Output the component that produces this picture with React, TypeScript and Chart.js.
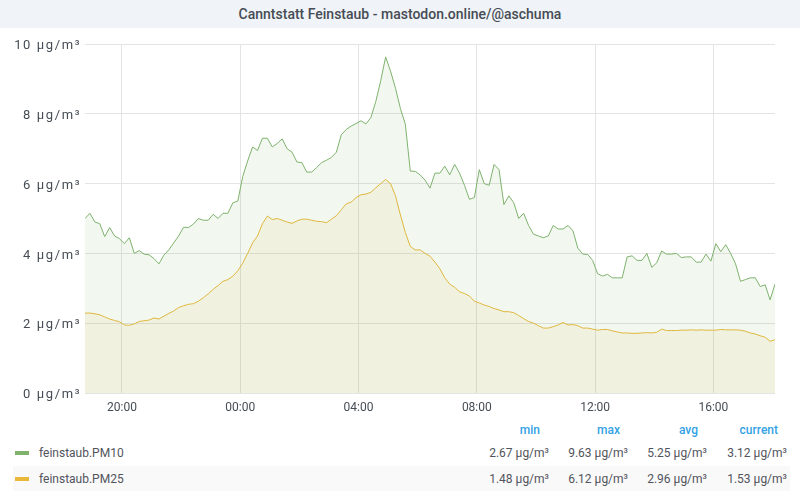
import React, { useEffect, useRef } from "react";
import { Chart, registerables } from "chart.js";

Chart.register(...registerables);

// Sampling: every 10 minutes starting 18:45 (hours since midnight of day 1)
const START_HOUR = 18.75;
const STEP_MINUTES = 10;

const pm10: number[] = [
  5.0, 5.15, 4.9, 4.85, 4.48, 4.74, 4.5, 4.42, 4.28, 4.45,
  4.0, 4.08, 3.98, 3.96, 3.85, 3.7, 3.95, 4.1, 4.3, 4.5,
  4.75, 4.74, 4.84, 5.0, 4.95, 4.95, 5.12, 5.0, 5.15, 5.15,
  5.45, 5.5, 6.2, 6.65, 7.05, 6.95, 7.3, 7.3, 7.05, 7.15,
  7.28, 7.0, 6.9, 6.62, 6.6, 6.33, 6.33, 6.46, 6.6, 6.67,
  6.75, 6.9, 7.4, 7.55, 7.65, 7.72, 7.8, 7.71, 7.89, 8.35,
  8.95, 9.63, 9.22, 8.73, 8.15, 7.7, 6.36, 6.35, 6.25, 6.1,
  5.87, 6.3, 6.3, 6.5, 6.25, 6.55, 6.3, 5.95, 5.55, 5.6,
  6.4, 6.0, 5.95, 6.55, 6.4, 5.4, 5.65, 5.45, 5.0, 5.15,
  4.8, 4.55, 4.5, 4.45, 4.5, 4.8, 4.7, 4.7, 4.8, 4.65,
  4.15, 3.98, 3.97, 3.8, 3.42, 3.35, 3.4, 3.3, 3.3, 3.3,
  3.9, 3.93, 3.8, 3.8, 4.0, 3.6, 3.73, 4.07, 3.98, 3.98,
  4.0, 3.88, 3.9, 3.9, 3.75, 3.75, 3.98, 3.78, 4.28, 4.05,
  4.25, 4.0, 3.7, 3.2, 3.25, 3.3, 3.3, 3.05, 3.1, 2.67,
  3.12,
];

const pm25: number[] = [
  2.29, 2.29, 2.27, 2.24, 2.18, 2.12, 2.08, 2.04, 1.95, 1.94,
  1.98, 2.05, 2.07, 2.09, 2.15, 2.12, 2.2, 2.28, 2.35, 2.45,
  2.5, 2.54, 2.56, 2.63, 2.73, 2.84, 2.97, 3.08, 3.2, 3.25,
  3.35, 3.5, 3.72, 4.0, 4.3, 4.5, 4.85, 5.07, 4.97, 5.0,
  4.95, 4.9, 4.86, 4.93, 4.98, 4.98, 4.95, 4.92, 4.91, 4.88,
  4.98, 5.08, 5.25, 5.42, 5.47, 5.6, 5.68, 5.7, 5.75, 5.88,
  6.0, 6.12, 6.0, 5.65, 5.1, 4.6, 4.2, 4.1, 4.1, 4.0,
  3.92, 3.75, 3.56, 3.3, 3.12, 3.03, 2.9, 2.85, 2.78, 2.63,
  2.58, 2.52, 2.48, 2.42, 2.38, 2.33, 2.33, 2.3, 2.22, 2.13,
  2.05, 2.0, 1.93, 1.86, 1.86, 1.9, 1.95, 2.02, 1.95, 1.96,
  1.93, 1.86, 1.86, 1.83, 1.8, 1.82, 1.82, 1.78, 1.75, 1.72,
  1.72, 1.71, 1.71, 1.72, 1.73, 1.72, 1.74, 1.83, 1.79, 1.79,
  1.79, 1.8, 1.8, 1.81, 1.8, 1.81, 1.8, 1.8, 1.8, 1.82,
  1.81, 1.81, 1.81, 1.8, 1.77, 1.72, 1.69, 1.64, 1.6, 1.48,
  1.53,
];

const xTickHours: number[] = [20, 24, 28, 32, 36, 40];
const yTicks: number[] = [0, 2, 4, 6, 8, 10];

const seriesNames: string[] = ["feinstaub.PM10", "feinstaub.PM25"];
const seriesColors: string[] = ["#7eb26d", "#eab839"];
const seriesFills: string[] = ["rgba(126,178,109,0.1)", "rgba(234,184,57,0.1)"];
const statHeaders: string[] = ["min", "max", "avg", "current"];
const pm10Stats: number[] = [2.67, 9.63, 5.25, 3.12];
const pm25Stats: number[] = [1.48, 6.12, 2.96, 1.53];

const TITLE = "Canntstatt Feinstaub - mastodon.online/@aschuma";
const UNIT = "µg/m³";
const FONT = "Roboto, 'Noto Sans', sans-serif";

function ChartCanvas() {
  const ref = useRef<HTMLCanvasElement | null>(null);
  useEffect(() => {
    if (!ref.current) return;
    const toPoints = (arr: number[]) =>
      arr.map((v, i) => ({ x: START_HOUR + (i * STEP_MINUTES) / 60, y: v }));
    const chart = new Chart(ref.current, {
      type: "line",
      data: {
        datasets: [
          {
            label: seriesNames[0],
            data: toPoints(pm10),
            borderColor: seriesColors[0],
            backgroundColor: seriesFills[0],
            borderWidth: 1,
            pointRadius: 0,
            tension: 0,
            fill: "origin",
          },
          {
            label: seriesNames[1],
            data: toPoints(pm25),
            borderColor: seriesColors[1],
            backgroundColor: seriesFills[1],
            borderWidth: 1,
            pointRadius: 0,
            tension: 0,
            fill: "origin",
          },
        ],
      },
      options: {
        animation: false,
        responsive: false,
        maintainAspectRatio: false,
        layout: { padding: { top: 16, right: 25, bottom: 0, left: 0 } },
        plugins: { legend: { display: false }, tooltip: { enabled: false } },
        scales: {
          x: {
            type: "linear",
            min: START_HOUR,
            max: START_HOUR + ((pm10.length - 1) * STEP_MINUTES) / 60,
            afterBuildTicks: (scale: any) => {
              scale.ticks = xTickHours.map((v) => ({ value: v }));
            },
            afterFit: (scale: any) => {
              scale.height = 25;
            },
            ticks: {
              autoSkip: false,
              maxRotation: 0,
              padding: 8,
              color: "#464c54",
              font: { family: FONT, size: 12 },
              callback: (v: any) => {
                const h = Math.round(Number(v)) % 24;
                return `${h.toString().padStart(2, "0")}:00`;
              },
            },
            grid: { color: "#e4e4e4", drawTicks: false, lineWidth: 1 },
            border: { display: false },
          },
          y: {
            min: 0,
            max: 10,
            afterBuildTicks: (scale: any) => {
              scale.ticks = yTicks.map((v) => ({ value: v }));
            },
            afterFit: (scale: any) => {
              scale.width = 85;
              if (!scale.__spaced) {
                scale.__spaced = true;
                const orig = scale.drawLabels;
                scale.drawLabels = function (area: any) {
                  const ctx = this.ctx;
                  ctx.save();
                  try {
                    (ctx as any).letterSpacing = "1.6px";
                  } catch (e) {}
                  orig.call(this, area);
                  ctx.restore();
                };
              }
            },
            ticks: {
              padding: 4,
              labelOffset: 2,
              color: "#464c54",
              font: { family: FONT, size: 13 },
              callback: (v: any) => `${v} ${UNIT}`,
            },
            grid: { color: "#e4e4e4", drawTicks: false, lineWidth: 1 },
            border: { display: false },
          },
        },
      },
    });
    return () => chart.destroy();
  }, []);
  return <canvas ref={ref} width={800} height={390} style={{ display: "block", width: 800, height: 390 }} />;
}

export default function App() {
  useEffect(() => {
    document.body.style.margin = "0";
    document.body.style.background = "#ffffff";
  }, []);
  const headerRights = [260, 180, 102, 22];
  const valueRights = [251, 172, 93, 13];
  const rows = [
    { name: seriesNames[0], color: seriesColors[0], stats: pm10Stats, center: 453, bg: false },
    { name: seriesNames[1], color: seriesColors[1], stats: pm25Stats, center: 479, bg: true },
  ];
  return (
    <div style={{ position: "relative", width: 800, height: 500, fontFamily: FONT, overflow: "hidden", background: "#fff" }}>
      <div
        style={{
          position: "absolute",
          left: 0,
          top: 0,
          width: 800,
          height: 28,
          background: "#f0f3f8",
          color: "#464c54",
          fontSize: 14,
          fontWeight: 500,
          lineHeight: "28px",
          textAlign: "center",
        }}
      >
        {TITLE}
      </div>
      <div style={{ position: "absolute", left: 0, top: 28, width: 800, height: 390 }}>
        <ChartCanvas />
      </div>
      {statHeaders.map((h, i) => (
        <div
          key={h}
          style={{
            position: "absolute",
            right: headerRights[i],
            top: 422,
            lineHeight: "16px",
            fontSize: 12,
            fontWeight: 500,
            color: "#33a2e5",
          }}
        >
          {h}
        </div>
      ))}
      {rows.map((r) => (
        <React.Fragment key={r.name}>
          {r.bg && (
            <div
              style={{
                position: "absolute",
                left: 13,
                top: r.center - 13,
                width: 777,
                height: 25,
                background: "#f9f9f9",
              }}
            />
          )}
          <div
            style={{
              position: "absolute",
              left: 15,
              top: r.center - 2,
              width: 14,
              height: 4,
              background: r.color,
            }}
          />
          <div
            style={{
              position: "absolute",
              left: 39,
              top: r.center - 8,
              lineHeight: "16px",
              fontSize: 12,
              color: "#52545c",
            }}
          >
            {r.name}
          </div>
          {r.stats.map((s, i) => (
            <div
              key={i}
              style={{
                position: "absolute",
                right: valueRights[i],
                top: r.center - 8,
                lineHeight: "16px",
                fontSize: 12,
                color: "#52545c",
                whiteSpace: "nowrap",
              }}
            >
              {`${s.toFixed(2)} ${UNIT}`}
            </div>
          ))}
        </React.Fragment>
      ))}
    </div>
  );
}
